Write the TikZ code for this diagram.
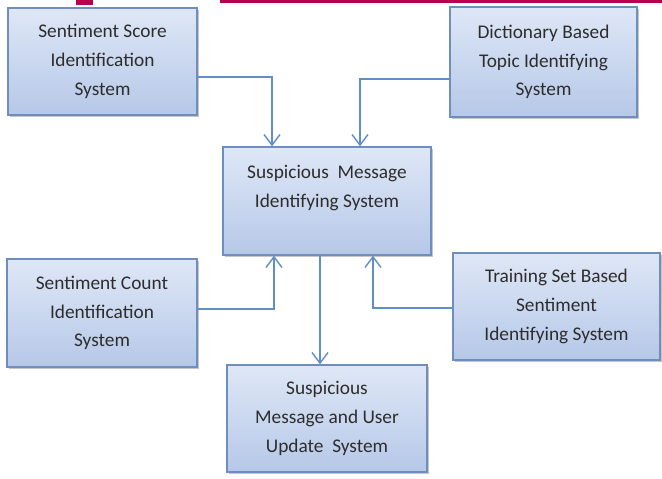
\documentclass[tikz,border=0pt]{standalone}
\usepackage{fontspec}
\setmainfont{Carlito}
\usetikzlibrary{arrows.meta,shadows,calc}

\definecolor{boxtop}{RGB}{222,231,246}
\definecolor{boxbottom}{RGB}{182,200,232}
\definecolor{boxline}{RGB}{112,142,188}
\definecolor{linkblue}{RGB}{96,142,200}
\definecolor{bannerred}{RGB}{184,0,78}
\definecolor{textgrey}{RGB}{45,45,45}

\begin{document}
\begin{tikzpicture}[x=0.75pt,y=0.75pt,yscale=-1,xscale=1,
  box/.style={draw=boxline, line width=0.9pt, top color=boxtop, bottom color=boxbottom,
    drop shadow={shadow xshift=1.8pt, shadow yshift=-1.8pt, opacity=0.45},
    align=center, text=textgrey, inner sep=2pt,
    font=\fontsize{14.5}{21.5}\selectfont},
  link/.style={draw=linkblue, line width=1.1pt, -{Straight Barb[length=8pt,width=12pt]}}]
\useasboundingbox (0,0) rectangle (662,479);

% Banner
\fill [bannerred] (76,0) rectangle (93,5);
\fill [bannerred] (220,0) rectangle (662,3);

% Text Node
\node [box, minimum width=189*0.75pt, minimum height=107*0.75pt] (score) at (102.5,61.5)
  {Sentiment Score\\Identification\\System};
% Text Node
\node [box, minimum width=187*0.75pt, minimum height=110*0.75pt] (dict) at (543.5,62)
  {Dictionary Based\\Topic Identifying\\System};
% Text Node
\node [box, minimum width=208*0.75pt, minimum height=108*0.75pt] (msg) at (327,201)
  {Suspicious\ \ Message\\Identifying System\\\mbox{}};
% Text Node
\node [box, minimum width=190*0.75pt, minimum height=108*0.75pt] (count) at (102,313)
  {Sentiment Count\\Identification\\System};
% Text Node
\node [box, minimum width=207*0.75pt, minimum height=107*0.75pt] (train) at (556.5,306.5)
  {Training Set Based\\Sentiment\\Identifying System};
% Text Node
\node [box, minimum width=200*0.75pt, minimum height=107*0.75pt] (update) at (327,418.5)
  {Suspicious\\Message and User\\Update\ \ System};

% Connection
\draw [link] (score.east |- 0,77) -| ($(msg.north)+(-55,0)$);
% Connection
\draw [link] (dict.west |- 0,79) -| ($(msg.north)+(33,0)$);
% Connection
\draw [link] (count.east |- 0,309) -| ($(msg.south)+(-53,0)$);
% Connection
\draw [link] (train.west |- 0,308) -| ($(msg.south)+(46,0)$);
% Connection
\draw [link] ($(msg.south)+(-7,0)$) -- ($(update.north)+(-7,0)$);

\end{tikzpicture}
\end{document}
